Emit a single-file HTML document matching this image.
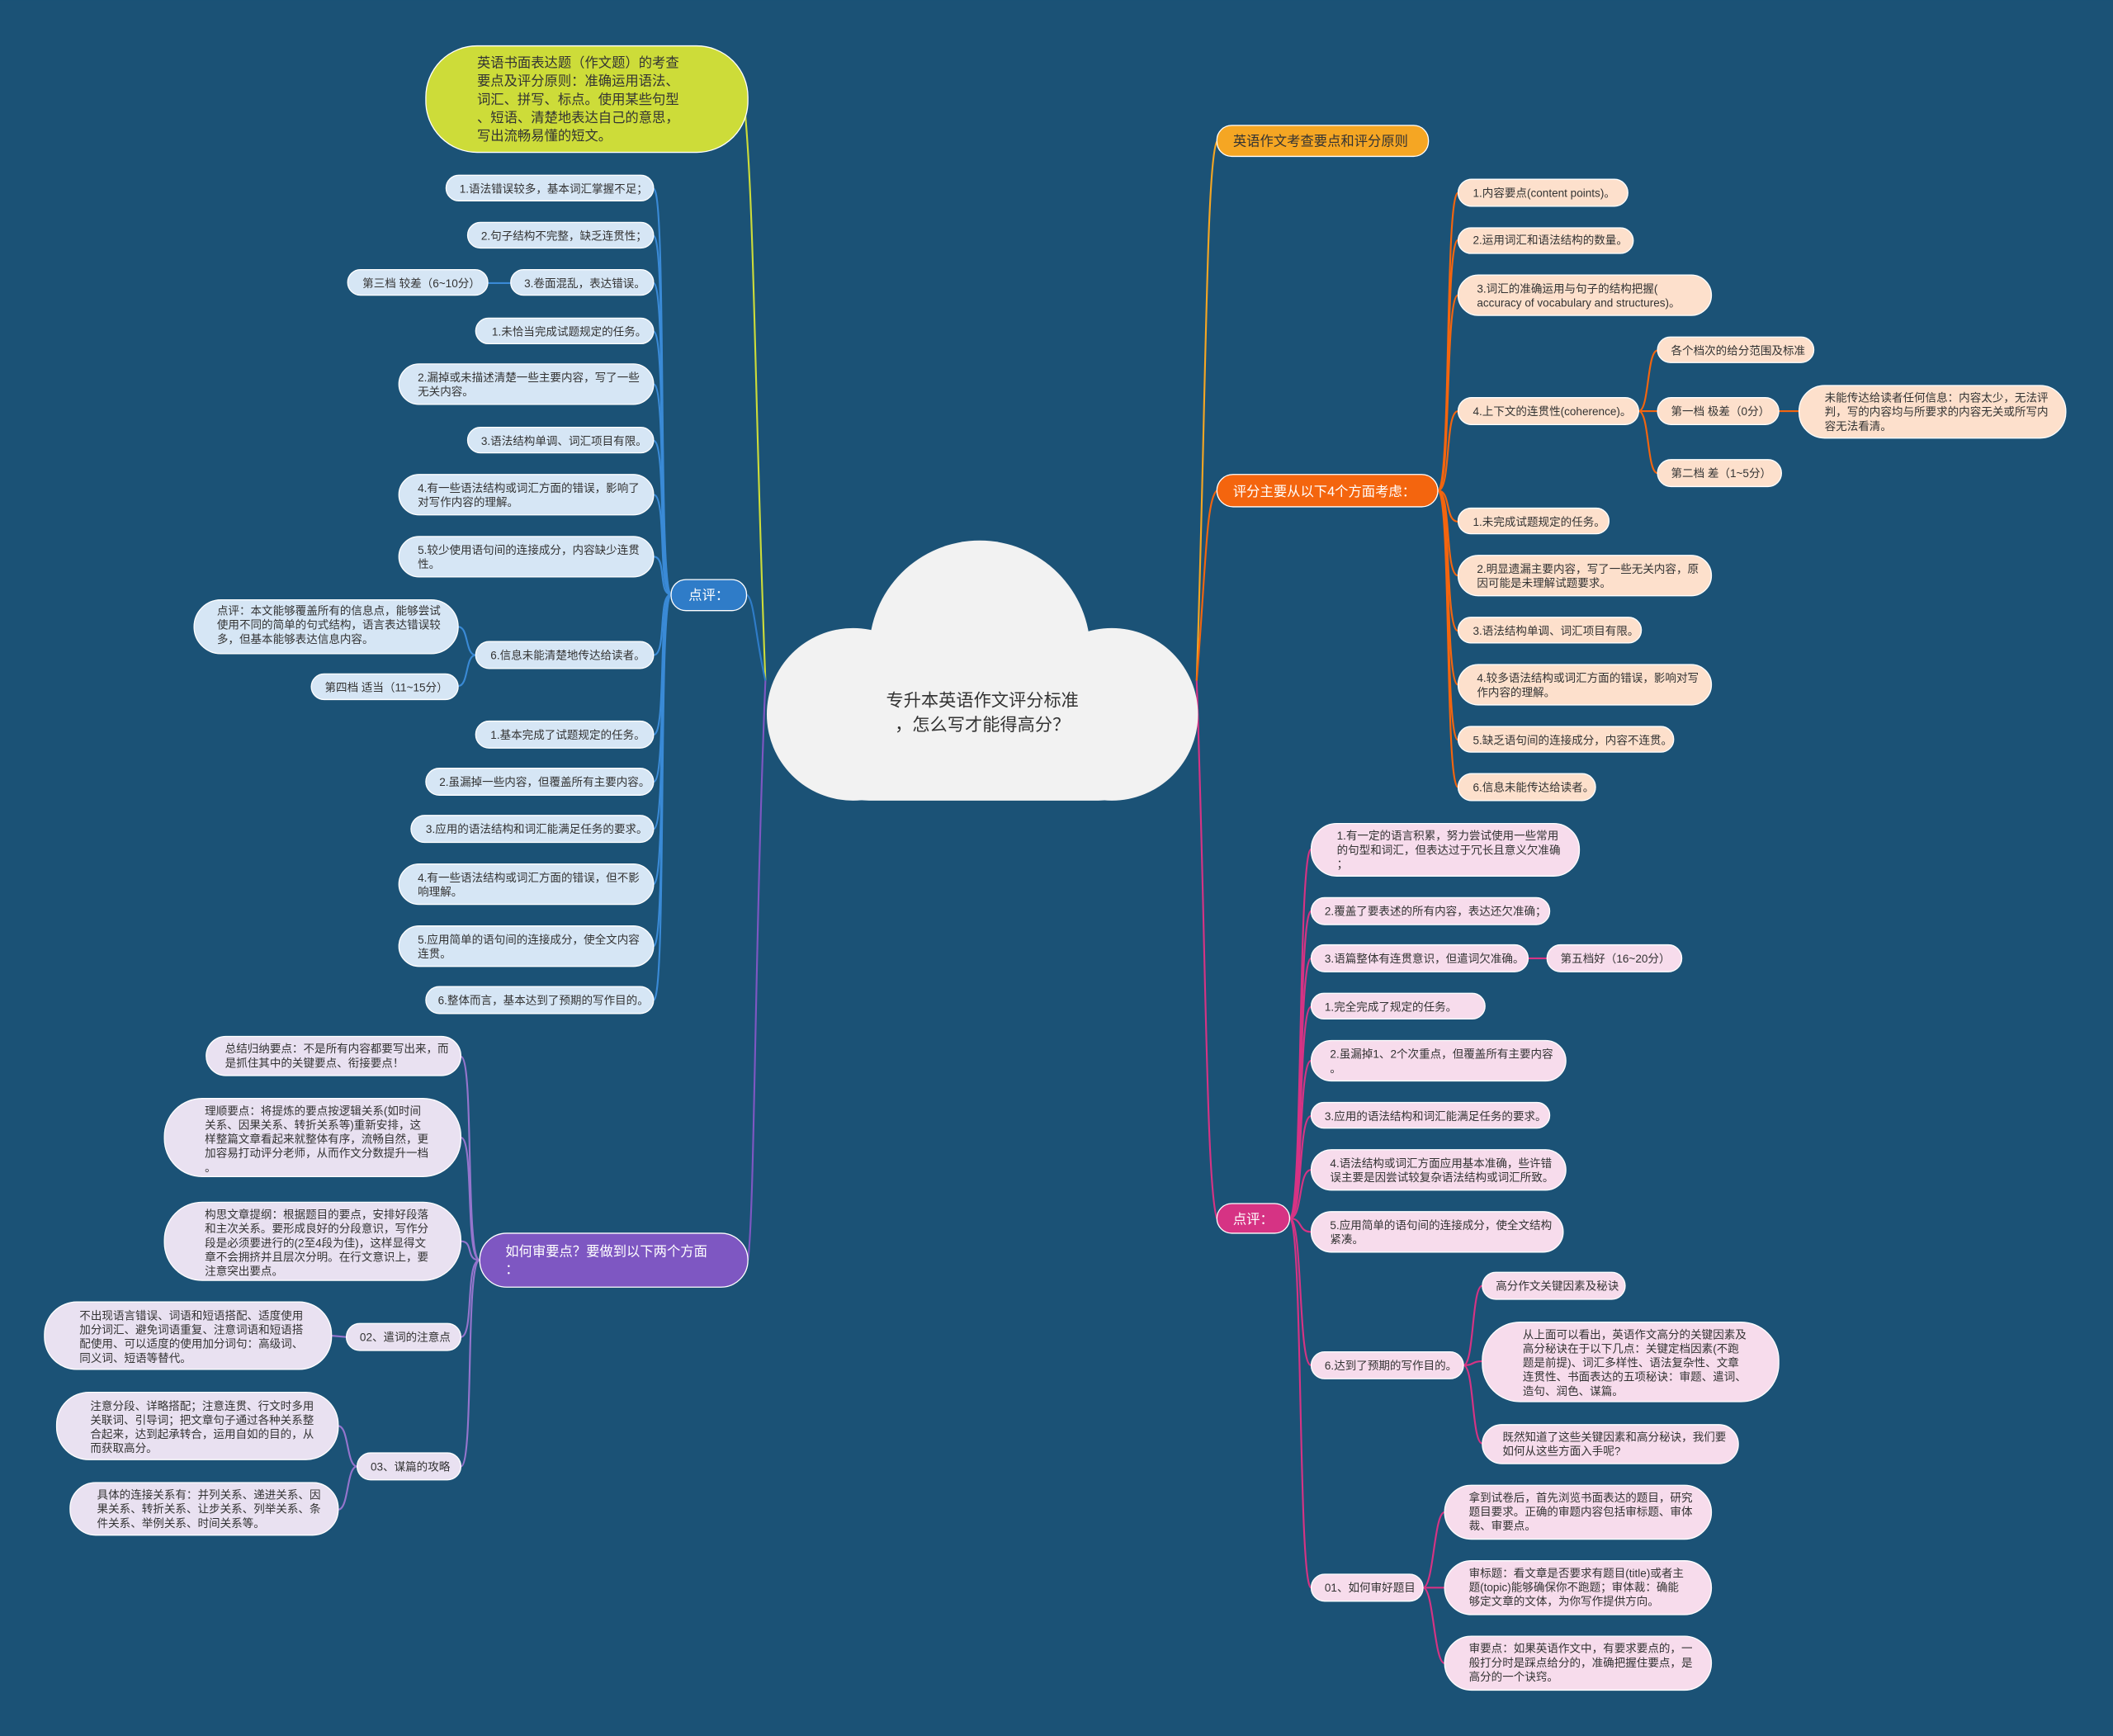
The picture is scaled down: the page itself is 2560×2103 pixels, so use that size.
<!DOCTYPE html>
<html><head><meta charset="utf-8"><style>
html,body{margin:0;padding:0;background:#1b5276;}
svg{display:block;}
text{font-family:"Liberation Sans","Noto Sans CJK SC",sans-serif;font-size:8.3px;fill:#333;}
.b rect,.b{fill:#d6e6f5;stroke:#fff;stroke-width:0.8}
.p{fill:#e9e1f1;stroke:#fff;stroke-width:0.8}
.o{fill:#fde0cc;stroke:#fff;stroke-width:0.8}
.k{fill:#f7dcec;stroke:#fff;stroke-width:0.8}
.e{fill:none;stroke-width:1.3}
</style></head><body>
<svg width="2560" height="2103" viewBox="0 0 1568 1288" xmlns="http://www.w3.org/2000/svg">
<rect width="1568" height="1288" fill="#1b5276"/>

<!-- root edges -->
<path class="e" stroke="#cddc39" stroke-width="1.6" d="M568 505 C560 300,560 150,552 74"/>
<path class="e" stroke="#2f7cc8" stroke-width="1.6" d="M568 505 C560 470,560 445,554 441"/>
<path class="e" stroke="#7e57c2" stroke-width="1.6" d="M568 505 C560 700,560 900,555 935"/>
<path class="e" stroke="#f5a623" stroke-width="1.6" d="M888 505 C895 300,895 120,903 105"/>
<path class="e" stroke="#f4650e" stroke-width="1.6" d="M888 505 C895 420,895 370,903 364"/>
<path class="e" stroke="#d63384" stroke-width="1.6" d="M888 505 C895 700,895 880,903 904"/>

<!-- blue edges (from 498,441) -->
<g stroke="#3a8ad6" class="e">
<path d="M498 441 C488 441,495 140,485 140"/>
<path d="M498 441 C488 441,495 175,485 175"/>
<path d="M498 441 C488 441,495 210,485 210"/>
<path d="M498 441 C488 441,495 246,485 246"/>
<path d="M498 441 C488 441,495 285,485 285"/>
<path d="M498 441 C488 441,495 327,485 327"/>
<path d="M498 441 C488 441,495 367,485 367"/>
<path d="M498 441 C488 441,495 413,485 413"/>
<path d="M498 441 C488 441,495 486,485 486"/>
<path d="M498 441 C488 441,495 545,485 545"/>
<path d="M498 441 C488 441,495 580,485 580"/>
<path d="M498 441 C488 441,495 615,485 615"/>
<path d="M498 441 C488 441,495 656,485 656"/>
<path d="M498 441 C488 441,495 702,485 702"/>
<path d="M498 441 C488 441,495 742,485 742"/>
<path d="M379 210 L362 210"/>
<path d="M353 486 C345 486,348 465,340 465"/>
<path d="M353 486 C345 486,348 509,340 509"/>
</g>
<!-- purple edges -->
<g stroke="#9575cd" class="e">
<path d="M356 935 C345 935,352 784,342 784"/>
<path d="M356 935 C345 935,352 844,342 844"/>
<path d="M356 935 C345 935,352 921,342 921"/>
<path d="M356 935 C345 935,352 992,342 992"/>
<path d="M356 935 C345 935,352 1088,342 1088"/>
<path d="M257 992 L246 991"/>
<path d="M265 1088 C257 1088,259 1058,251 1058"/>
<path d="M265 1088 C257 1088,259 1120,251 1120"/>
</g>
<!-- orange edges -->
<g stroke="#f4650e" class="e">
<path d="M1067 364 C1077 364,1072 143,1082 143"/>
<path d="M1067 364 C1077 364,1072 178,1082 178"/>
<path d="M1067 364 C1077 364,1072 219,1082 219"/>
<path d="M1067 364 C1077 364,1072 305,1082 305"/>
<path d="M1067 364 C1077 364,1072 387,1082 387"/>
<path d="M1067 364 C1077 364,1072 427,1082 427"/>
<path d="M1067 364 C1077 364,1072 468,1082 468"/>
<path d="M1067 364 C1077 364,1072 508,1082 508"/>
<path d="M1067 364 C1077 364,1072 549,1082 549"/>
<path d="M1067 364 C1077 364,1072 584,1082 584"/>
<path d="M1216 305 C1224 305,1222 260,1230 260"/>
<path d="M1216 305 L1230 305"/>
<path d="M1216 305 C1224 305,1222 351,1230 351"/>
<path d="M1320 305 L1335 305"/>
</g>
<!-- magenta edges -->
<g stroke="#d63384" class="e">
<path d="M957 904 C967 904,963 630,973 630"/>
<path d="M957 904 C967 904,963 676,973 676"/>
<path d="M957 904 C967 904,963 711,973 711"/>
<path d="M957 904 C967 904,963 747,973 747"/>
<path d="M957 904 C967 904,963 787,973 787"/>
<path d="M957 904 C967 904,963 828,973 828"/>
<path d="M957 904 C967 904,963 868,973 868"/>
<path d="M957 904 C967 904,963 914,973 914"/>
<path d="M957 904 C967 904,963 1013,973 1013"/>
<path d="M957 904 C967 904,963 1178,973 1178"/>
<path d="M1134 711 L1148 711"/>
<path d="M1086 1013 C1094 1013,1092 954,1100 954"/>
<path d="M1086 1013 C1094 1013,1092 1010,1100 1010"/>
<path d="M1086 1013 C1094 1013,1092 1071,1100 1071"/>
<path d="M1056 1178 C1064 1178,1064 1122,1072 1122"/>
<path d="M1056 1178 C1064 1178,1064 1178,1072 1178"/>
<path d="M1056 1178 C1064 1178,1064 1234,1072 1234"/>
</g>

<!-- root cloud -->
<g fill="#f2f2f2">
<circle cx="727" cy="483" r="82"/>
<circle cx="633" cy="530" r="64"/>
<circle cx="825" cy="530" r="64"/>
<rect x="600" y="500" width="260" height="94" rx="45"/>
</g>
<text x="729" y="524" text-anchor="middle" style="font-size:13px;fill:#333">专升本英语作文评分标准</text>
<text x="729" y="542" text-anchor="middle" style="font-size:13px;fill:#333">，怎么写才能得高分？</text>

<!-- main branches -->
<rect x="316" y="34" width="239" height="79" rx="38" fill="#cddc39" stroke="#fff" stroke-width="0.8"/>
<text x="354" y="50" style="font-size:10px"><tspan x="354">英语书面表达题（作文题）的考查</tspan><tspan x="354" dy="13.5">要点及评分原则：准确运用语法、</tspan><tspan x="354" dy="13.5">词汇、拼写、标点。使用某些句型</tspan><tspan x="354" dy="13.5">、短语、清楚地表达自己的意思，</tspan><tspan x="354" dy="13.5">写出流畅易懂的短文。</tspan></text>

<rect x="498" y="430" width="56" height="23" rx="11" fill="#2f7cc8" stroke="#fff" stroke-width="0.8"/>
<text x="511" y="445" style="font-size:10px;fill:#fff">点评：</text>

<rect x="356" y="915" width="199" height="40" rx="20" fill="#7e57c2" stroke="#fff" stroke-width="0.8"/>
<text x="375" y="932" style="font-size:10px;fill:#fff"><tspan x="375">如何审要点？要做到以下两个方面</tspan><tspan x="375" dy="13">：</tspan></text>

<rect x="903" y="93" width="157" height="23" rx="11" fill="#f5a623" stroke="#fff" stroke-width="0.8"/>
<text x="915" y="108" style="font-size:10px">英语作文考查要点和评分原则</text>

<rect x="903" y="352" width="164" height="24" rx="12" fill="#f4650e" stroke="#fff" stroke-width="0.8"/>
<text x="915" y="368" style="font-size:10px;fill:#fff">评分主要从以下4个方面考虑：</text>

<rect x="903" y="893" width="54" height="22" rx="11" fill="#d63384" stroke="#fff" stroke-width="0.8"/>
<text x="915" y="908" style="font-size:10px;fill:#fff">点评：</text>

<!-- blue children -->
<rect class="b" x="331" y="130" width="154" height="19" rx="9.5"/><text x="341" y="143">1.语法错误较多，基本词汇掌握不足；</text>
<rect class="b" x="347" y="165" width="138" height="19" rx="9.5"/><text x="357" y="178">2.句子结构不完整，缺乏连贯性；</text>
<rect class="b" x="379" y="200" width="106" height="19" rx="9.5"/><text x="389" y="213">3.卷面混乱，表达错误。</text>
<rect class="b" x="258" y="200" width="104" height="19" rx="9.5"/><text x="269" y="213">第三档 较差（6~10分）</text>
<rect class="b" x="353" y="236" width="132" height="19" rx="9.5"/><text x="365" y="249">1.未恰当完成试题规定的任务。</text>
<rect class="b" x="296" y="270" width="189" height="30" rx="15"/><text x="310" y="283"><tspan x="310">2.漏掉或未描述清楚一些主要内容，写了一些</tspan><tspan x="310" dy="10.5">无关内容。</tspan></text>
<rect class="b" x="347" y="317" width="138" height="19" rx="9.5"/><text x="357" y="330">3.语法结构单调、词汇项目有限。</text>
<rect class="b" x="296" y="352" width="189" height="30" rx="15"/><text x="310" y="365"><tspan x="310">4.有一些语法结构或词汇方面的错误，影响了</tspan><tspan x="310" dy="10.5">对写作内容的理解。</tspan></text>
<rect class="b" x="296" y="398" width="189" height="30" rx="15"/><text x="310" y="411"><tspan x="310">5.较少使用语句间的连接成分，内容缺少连贯</tspan><tspan x="310" dy="10.5">性。</tspan></text>
<rect class="b" x="353" y="476" width="132" height="20" rx="10"/><text x="364" y="489">6.信息未能清楚地传达给读者。</text>
<rect class="b" x="144" y="445" width="196" height="40" rx="20"/><text x="161" y="456"><tspan x="161">点评：本文能够覆盖所有的信息点，能够尝试</tspan><tspan x="161" dy="10.5">使用不同的简单的句式结构，语言表达错误较</tspan><tspan x="161" dy="10.5">多，但基本能够表达信息内容。</tspan></text>
<rect class="b" x="231" y="500" width="109" height="19" rx="9.5"/><text x="241" y="513">第四档 适当（11~15分）</text>
<rect class="b" x="353" y="535" width="132" height="20" rx="10"/><text x="364" y="548">1.基本完成了试题规定的任务。</text>
<rect class="b" x="316" y="570" width="169" height="20" rx="10"/><text x="326" y="583">2.虽漏掉一些内容，但覆盖所有主要内容。</text>
<rect class="b" x="305" y="605" width="180" height="20" rx="10"/><text x="316" y="618">3.应用的语法结构和词汇能满足任务的要求。</text>
<rect class="b" x="296" y="641" width="189" height="30" rx="15"/><text x="310" y="654"><tspan x="310">4.有一些语法结构或词汇方面的错误，但不影</tspan><tspan x="310" dy="10.5">响理解。</tspan></text>
<rect class="b" x="296" y="687" width="189" height="30" rx="15"/><text x="310" y="700"><tspan x="310">5.应用简单的语句间的连接成分，使全文内容</tspan><tspan x="310" dy="10.5">连贯。</tspan></text>
<rect class="b" x="316" y="732" width="169" height="20" rx="10"/><text x="325" y="745">6.整体而言，基本达到了预期的写作目的。</text>

<!-- purple children -->
<rect class="p" x="153" y="769" width="189" height="29" rx="14.5"/><text x="167" y="781"><tspan x="167">总结归纳要点：不是所有内容都要写出来，而</tspan><tspan x="167" dy="10.5">是抓住其中的关键要点、衔接要点！</tspan></text>
<rect class="p" x="122" y="815" width="220" height="58" rx="28"/><text x="152" y="827"><tspan x="152">理顺要点：将提炼的要点按逻辑关系(如时间</tspan><tspan x="152" dy="10.5">关系、因果关系、转折关系等)重新安排，这</tspan><tspan x="152" dy="10.5">样整篇文章看起来就整体有序，流畅自然，更</tspan><tspan x="152" dy="10.5">加容易打动评分老师，从而作文分数提升一档</tspan><tspan x="152" dy="10.5">。</tspan></text>
<rect class="p" x="122" y="892" width="220" height="58" rx="28"/><text x="152" y="904"><tspan x="152">构思文章提纲：根据题目的要点，安排好段落</tspan><tspan x="152" dy="10.5">和主次关系。要形成良好的分段意识，写作分</tspan><tspan x="152" dy="10.5">段是必须要进行的(2至4段为佳)，这样显得文</tspan><tspan x="152" dy="10.5">章不会拥挤并且层次分明。在行文意识上，要</tspan><tspan x="152" dy="10.5">注意突出要点。</tspan></text>
<rect class="p" x="257" y="982" width="85" height="20" rx="10"/><text x="267" y="995">02、遣词的注意点</text>
<rect class="p" x="33" y="966" width="213" height="50" rx="24"/><text x="59" y="979"><tspan x="59">不出现语言错误、词语和短语搭配、适度使用</tspan><tspan x="59" dy="10.5">加分词汇、避免词语重复、注意词语和短语搭</tspan><tspan x="59" dy="10.5">配使用、可以适度的使用加分词句：高级词、</tspan><tspan x="59" dy="10.5">同义词、短语等替代。</tspan></text>
<rect class="p" x="265" y="1078" width="77" height="20" rx="10"/><text x="275" y="1091">03、谋篇的攻略</text>
<rect class="p" x="42" y="1033" width="209" height="50" rx="24"/><text x="67" y="1046"><tspan x="67">注意分段、详略搭配；注意连贯、行文时多用</tspan><tspan x="67" dy="10.5">关联词、引导词；把文章句子通过各种关系整</tspan><tspan x="67" dy="10.5">合起来，达到起承转合，运用自如的目的，从</tspan><tspan x="67" dy="10.5">而获取高分。</tspan></text>
<rect class="p" x="52" y="1100" width="199" height="39" rx="19"/><text x="72" y="1112"><tspan x="72">具体的连接关系有：并列关系、递进关系、因</tspan><tspan x="72" dy="10.5">果关系、转折关系、让步关系、列举关系、条</tspan><tspan x="72" dy="10.5">件关系、举例关系、时间关系等。</tspan></text>

<!-- orange children -->
<rect class="o" x="1082" y="133" width="126" height="20" rx="10"/><text x="1093" y="146">1.内容要点(content points)。</text>
<rect class="o" x="1082" y="169" width="130" height="19" rx="9.5"/><text x="1093" y="181">2.运用词汇和语法结构的数量。</text>
<rect class="o" x="1082" y="204" width="188" height="30" rx="15"/><text x="1096" y="217"><tspan x="1096">3.词汇的准确运用与句子的结构把握(</tspan><tspan x="1096" dy="10.5">accuracy of vocabulary and structures)。</tspan></text>
<rect class="o" x="1082" y="295" width="134" height="20" rx="10"/><text x="1093" y="308">4.上下文的连贯性(coherence)。</text>
<rect class="o" x="1230" y="250" width="116" height="19" rx="9.5"/><text x="1240" y="263">各个档次的给分范围及标准</text>
<rect class="o" x="1230" y="295" width="90" height="20" rx="10"/><text x="1240" y="308">第一档 极差（0分）</text>
<rect class="o" x="1335" y="286" width="198" height="39" rx="19"/><text x="1354" y="298"><tspan x="1354">未能传达给读者任何信息：内容太少，无法评</tspan><tspan x="1354" dy="10.5">判，写的内容均与所要求的内容无关或所写内</tspan><tspan x="1354" dy="10.5">容无法看清。</tspan></text>
<rect class="o" x="1230" y="341" width="92" height="20" rx="10"/><text x="1240" y="354">第二档 差（1~5分）</text>
<rect class="o" x="1082" y="377" width="112" height="19" rx="9.5"/><text x="1093" y="390">1.未完成试题规定的任务。</text>
<rect class="o" x="1082" y="412" width="188" height="30" rx="15"/><text x="1096" y="425"><tspan x="1096">2.明显遗漏主要内容，写了一些无关内容，原</tspan><tspan x="1096" dy="10.5">因可能是未理解试题要求。</tspan></text>
<rect class="o" x="1082" y="458" width="136" height="19" rx="9.5"/><text x="1093" y="471">3.语法结构单调、词汇项目有限。</text>
<rect class="o" x="1082" y="493" width="188" height="30" rx="15"/><text x="1096" y="506"><tspan x="1096">4.较多语法结构或词汇方面的错误，影响对写</tspan><tspan x="1096" dy="10.5">作内容的理解。</tspan></text>
<rect class="o" x="1082" y="539" width="160" height="19" rx="9.5"/><text x="1093" y="552">5.缺乏语句间的连接成分，内容不连贯。</text>
<rect class="o" x="1082" y="574" width="102" height="20" rx="10"/><text x="1093" y="587">6.信息未能传达给读者。</text>

<!-- magenta children -->
<rect class="k" x="973" y="611" width="199" height="39" rx="19"/><text x="992" y="623"><tspan x="992">1.有一定的语言积累，努力尝试使用一些常用</tspan><tspan x="992" dy="10.5">的句型和词汇，但表达过于冗长且意义欠准确</tspan><tspan x="992" dy="10.5">；</tspan></text>
<rect class="k" x="973" y="666" width="177" height="20" rx="10"/><text x="983" y="679">2.覆盖了要表述的所有内容，表达还欠准确；</text>
<rect class="k" x="973" y="701" width="161" height="20" rx="10"/><text x="983" y="714">3.语篇整体有连贯意识，但遣词欠准确。</text>
<rect class="k" x="1148" y="701" width="100" height="20" rx="10"/><text x="1158" y="714">第五档好（16~20分）</text>
<rect class="k" x="973" y="737" width="129" height="19" rx="9.5"/><text x="983" y="750">1.完全完成了规定的任务。</text>
<rect class="k" x="973" y="772" width="189" height="30" rx="15"/><text x="987" y="785"><tspan x="987">2.虽漏掉1、2个次重点，但覆盖所有主要内容</tspan><tspan x="987" dy="10.5">。</tspan></text>
<rect class="k" x="973" y="818" width="177" height="19" rx="9.5"/><text x="983" y="831">3.应用的语法结构和词汇能满足任务的要求。</text>
<rect class="k" x="973" y="853" width="189" height="30" rx="15"/><text x="987" y="866"><tspan x="987">4.语法结构或词汇方面应用基本准确，些许错</tspan><tspan x="987" dy="10.5">误主要是因尝试较复杂语法结构或词汇所致。</tspan></text>
<rect class="k" x="973" y="899" width="187" height="30" rx="15"/><text x="987" y="912"><tspan x="987">5.应用简单的语句间的连接成分，使全文结构</tspan><tspan x="987" dy="10.5">紧凑。</tspan></text>
<rect class="k" x="973" y="1003" width="113" height="20" rx="10"/><text x="983" y="1016">6.达到了预期的写作目的。</text>
<rect class="k" x="1100" y="944" width="106" height="20" rx="10"/><text x="1110" y="957">高分作文关键因素及秘诀</text>
<rect class="k" x="1100" y="981" width="220" height="59" rx="28"/><text x="1130" y="993"><tspan x="1130">从上面可以看出，英语作文高分的关键因素及</tspan><tspan x="1130" dy="10.5">高分秘诀在于以下几点：关键定档因素(不跑</tspan><tspan x="1130" dy="10.5">题是前提)、词汇多样性、语法复杂性、文章</tspan><tspan x="1130" dy="10.5">连贯性、书面表达的五项秘诀：审题、遣词、</tspan><tspan x="1130" dy="10.5">造句、润色、谋篇。</tspan></text>
<rect class="k" x="1100" y="1057" width="190" height="29" rx="14.5"/><text x="1115" y="1069"><tspan x="1115">既然知道了这些关键因素和高分秘诀，我们要</tspan><tspan x="1115" dy="10.5">如何从这些方面入手呢?</tspan></text>
<rect class="k" x="973" y="1168" width="83" height="20" rx="10"/><text x="983" y="1181">01、如何审好题目</text>
<rect class="k" x="1072" y="1102" width="198" height="40" rx="20"/><text x="1090" y="1114"><tspan x="1090">拿到试卷后，首先浏览书面表达的题目，研究</tspan><tspan x="1090" dy="10.5">题目要求。正确的审题内容包括审标题、审体</tspan><tspan x="1090" dy="10.5">裁、审要点。</tspan></text>
<rect class="k" x="1072" y="1158" width="198" height="40" rx="20"/><text x="1090" y="1170"><tspan x="1090">审标题：看文章是否要求有题目(title)或者主</tspan><tspan x="1090" dy="10.5">题(topic)能够确保你不跑题；审体裁：确能</tspan><tspan x="1090" dy="10.5">够定文章的文体，为你写作提供方向。</tspan></text>
<rect class="k" x="1072" y="1214" width="198" height="40" rx="20"/><text x="1090" y="1226"><tspan x="1090">审要点：如果英语作文中，有要求要点的，一</tspan><tspan x="1090" dy="10.5">般打分时是踩点给分的，准确把握住要点，是</tspan><tspan x="1090" dy="10.5">高分的一个诀窍。</tspan></text>
</svg>
</body></html>
